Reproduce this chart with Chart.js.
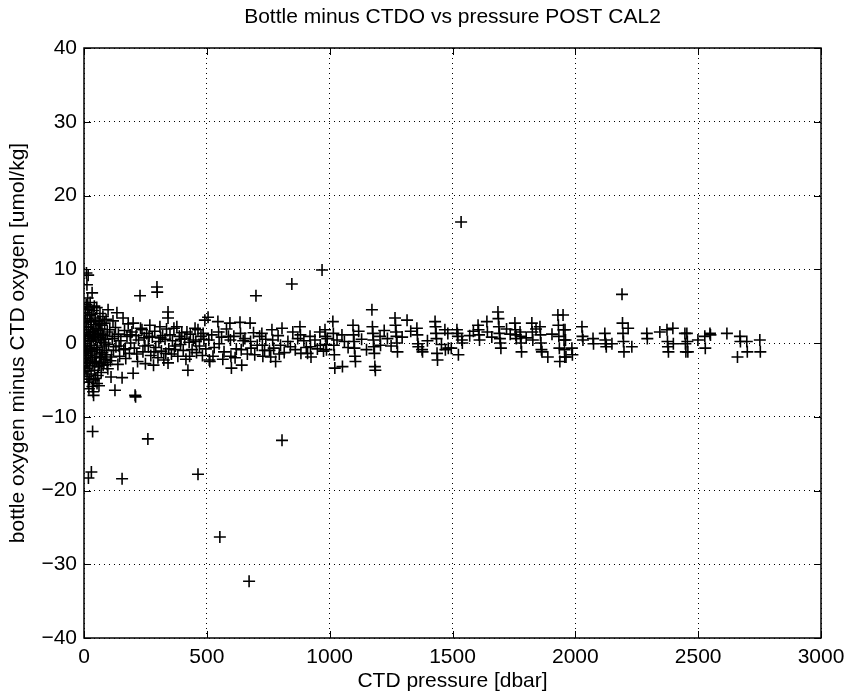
<!DOCTYPE html>
<html>
<head>
<meta charset="utf-8">
<title>Bottle minus CTDO vs pressure POST CAL2</title>
<script src="https://cdn.jsdelivr.net/npm/chart.js@4"></script>
<style>
    html, body { margin: 0; padding: 0; background: #fff; }
    #wrap { position: relative; width: 847px; height: 694px; }
</style>
</head>
<body>
<div id="wrap"><canvas id="oxyChart"></canvas></div>
<script>
// ============================================================
// DATA - [CTD pressure (dbar), bottle minus CTD oxygen (umol/kg)]
// ============================================================
const surfaceObs = [
    [2,1.2],[3,-0.5],[4,2.8],[5,-2.1],[6,4.1],[7,0.3],[8,-3.4],[9,5.2],[10,9.5],[10,-1.2],
    [11,1.8],[12,7.9],[12,-4.5],[13,3.3],[14,-0.8],[15,6.1],[15,-2.6],[16,0.6],[17,9.2],[17,-5.3],
    [18,2.2],[18,-18.3],[19,-1.7],[20,4.6],[20,-6.2],[21,0.9],[22,-3.1],[23,3.7],[24,-0.3],[25,5.5],
    [26,1.4],[27,-2.3],[28,2.9],[29,-4.2],[30,0.2],[30,-17.5],[31,3.9],[32,-1.1],[33,6.8],[34,-5.9],
    [35,1.6],[35,-12.0],[36,-2.8],[37,-6.6],[37,4.4],[38,0.7],[39,-7.1],[40,2.5],[41,-0.9],[42,5.0],
    [43,-3.7],[44,1.1],[45,-1.9],[46,3.4],[47,-4.8],[48,0.4],[49,2.0],[50,-2.5],[52,4.8],[53,-5.5],
    [54,1.3],[55,-0.6],[57,3.0],[58,-3.2],[60,0.8],[61,-5.8],[62,2.6],[64,-1.5],[65,4.0],[67,-2.0],
    [68,1.9],[70,-4.0],[72,0.1],[73,2.4],[75,-1.3],[77,3.6],[78,-3.0],[80,1.0],[82,-0.4],[84,2.7],
    [86,-2.2],[88,0.5],[90,3.2],[92,-1.6],[95,1.5],[97,-3.5],[98,4.5],[100,-0.2],
    [3,-3.9],[6,-1.4],[9,2.1],[11,-2.7],[14,4.9],[16,-3.8],[19,1.0],[23,-4.9],[26,-0.7],[29,3.1],
    [33,-2.0],[36,0.9],[40,-5.0],[44,-2.6],[47,2.9],[51,-0.9],[56,-4.4],[59,1.7],[63,-2.8],[66,0.4],
    [71,-1.8],[76,1.2],[81,-2.6],[85,0.0],[91,-1.0],[94,-2.9]
];

const upperObs = [
    [105,1.8],[108,-2.4],[110,-4.6],[115,0.6],[118,3.0],[120,-1.0],[126,-6.4],[128,2.1],[130,-0.5],[134,4.1],
    [138,-2.9],[140,1.2],[145,-1.8],[150,0.3],[155,-4.7],[155,-18.4],[159,3.4],[162,-0.9],[165,1.7],[170,-2.1],
    [175,0.9],[180,2.6],[185,-1.4],[190,0.0],[195,1.5],[200,-4.1],[200,2.7],[205,-0.7],[208,-7.1],[210,-7.3],
    [212,1.0],[218,-2.5],[222,0.4],[228,6.4],[230,2.0],[236,1.8],[240,-1.2],[245,0.7],[250,-2.8],[255,1.3],
    [260,-13.0],[262,-0.3],[268,2.4],[272,-1.7],[278,0.8],[283,-3.0],[288,1.6],[292,-0.6],[297,7.6],[298,6.9],
    [301,-2.0],[305,0.2],[309,2.2],[315,-1.1],[320,1.0],[325,-2.3],[330,0.5],[336,1.9],[342,4.2],[342,3.4],
    [342,-2.7],[345,-0.8],[350,1.1],[356,-1.5],[360,0.3],[366,2.0],[372,-0.4],[378,2.2],[382,-1.8],[388,0.9],
    [393,-0.2],[398,1.4],[404,-1.0],[410,0.6],[415,-2.2],[419,1.5],[423,-3.7],[428,0.1],[433,1.2],[440,-0.9],
    [445,0.4],[452,2.0],[458,-1.3],[464,1.8],[464,-17.8],[470,-0.4],[476,0.9],[482,-1.7],[488,0.5],[492,3.1],
    [496,-0.8],
    [112,-1.9],[124,0.9],[143,-0.4],[168,-0.8],[188,1.1],[215,-1.5],[248,-0.4],[265,0.9],[285,-1.2],[312,0.7],
    [333,-1.4],[368,-0.9],[395,0.5],[430,-1.8],[455,0.2],[485,1.3]
];

const intermediateObs = [
    [505,3.5],[508,0.4],[510,-2.3],[512,-2.5],[520,1.1],[530,-0.6],[545,2.9],[548,1.5],[550,-0.1],[553,-26.3],
    [560,0.8],[570,-1.2],[580,1.9],[594,2.7],[596,0.4],[598,-1.8],[600,-3.4],[610,0.9],[620,-0.8],[635,2.8],
    [637,1.3],[640,-0.9],[642,-3.0],[655,0.6],[665,-1.5],[672,-32.3],[676,2.7],[678,0.2],[680,-0.7],[690,1.4],
    [700,6.4],[705,-0.3],[715,0.9],[724,1.3],[726,-0.3],[728,-1.8],[740,0.5],[755,-1.0],[765,1.8],[768,0.4],
    [772,-0.7],[780,-2.5],[790,1.0],[800,-0.3],[806,-13.2],[806,2.0],[815,-1.3],[830,0.2],[846,8.0],[850,1.5],
    [860,-0.9],[879,2.2],[881,1.1],[883,-1.4],[895,0.3],[905,-0.6],[920,0.9],[922,-0.5],[924,-1.9],[940,0.4],
    [960,1.5],[962,-0.3],[969,9.9],[975,-1.1],[990,0.6],
    [525,-1.8],[565,-2.2],[588,0.9],[615,-2.0],[648,0.3],[695,-1.6],[735,-1.0],[760,-1.9],[795,-1.5],[840,-0.5],
    [870,0.6],[910,-1.4],[950,-0.8],
    [981,1.8],[983,0.9],[985,-0.2],[987,-0.9],[1013,2.9],[1015,1.3],[1017,-0.3],[1019,-1.6],[1021,-3.4],[1050,1.1],
    [1052,-3.2],[1060,0.2],[1095,2.4],[1097,1.1],[1099,0.2],[1101,-0.7],[1103,-1.8],[1105,-2.5],[1130,0.5],[1172,4.5],
    [1174,2.2],[1176,1.3],[1178,0.4],[1180,-0.5],[1182,-1.4],[1184,-3.2],[1186,-3.7],[1205,0.9],[1207,-0.3],[1235,0.6],
    [1266,3.4],[1268,2.4],[1270,1.5],[1272,0.9],[1274,0.0],[1276,-1.2],[1315,3.1],[1355,2.0],[1357,1.1],[1359,-0.1],
    [1361,-0.5],[1376,-0.9],[1378,-1.2],[1429,2.9],[1431,2.2],[1433,1.3],[1435,0.6],[1437,-1.4],[1439,-2.3],[1481,1.3],
    [1483,-0.7],[1535,16.4],
    [1030,0.4],[1075,-0.6],[1118,1.6],[1150,-0.9],[1222,1.7],[1250,-0.4],[1295,0.8],[1330,1.6],[1398,0.3],[1455,-0.2]
];

const deepObs = [
    [1469,1.8],[1471,-0.9],[1495,-0.7],[1518,1.8],[1520,1.3],[1522,0.9],[1524,-1.6],[1538,0.4],[1540,0.0],[1604,2.4],
    [1606,1.8],[1608,1.1],[1610,0.4],[1640,2.9],[1642,1.5],[1685,4.2],[1687,3.3],[1689,2.2],[1691,1.3],[1693,0.6],
    [1695,0.0],[1697,-0.7],[1754,2.7],[1756,1.8],[1758,1.1],[1760,0.6],[1775,1.5],[1777,0.9],[1779,0.0],[1781,-1.2],
    [1823,2.7],[1825,1.5],[1827,0.4],[1856,2.2],[1858,1.1],[1860,0.0],[1862,-0.9],[1864,-1.2],[1888,-1.9],[1929,3.8],
    [1931,2.4],[1933,0.9],[1935,-0.7],[1937,-2.5],[1958,1.8],[1960,0.4],[1962,-1.9],
    [1570,1.0],[1585,1.6],[1660,0.8],[1720,1.9],[1735,1.2],[1800,0.7],[1840,1.9],[1905,1.2],
    [1950,3.8],[1952,1.8],[1954,0.4],[1956,-0.9],[1957,-1.9],[1986,-0.7],[1988,-1.6],[2027,2.2],[2029,0.9],[2031,0.4],
    [2072,0.6],[2074,-0.1],[2120,1.3],[2122,0.4],[2124,-0.1],[2126,-0.5],[2149,-0.1],[2190,6.6],[2192,2.7],[2194,1.3],
    [2196,0.2],[2198,-1.2],[2215,2.0],[2230,-0.5],[2291,1.3],[2293,0.6],[2344,1.5],[2373,1.8],[2375,0.2],[2377,-0.5],
    [2379,-1.2],[2397,2.0],[2399,-0.1],[2446,1.3],[2448,-0.1],[2450,-1.2],
    [2454,1.3],[2456,0.2],[2458,-1.2],[2499,0.4],[2527,0.9],[2529,-0.7],[2548,1.3],[2550,1.1],[2617,1.3],[2660,-1.9],
    [2670,0.9],[2672,0.2],[2698,0.2],[2700,-1.2],[2751,0.4],[2753,-1.2]
];

// axis limits / ticks
const xTicks = [0, 500, 1000, 1500, 2000, 2500, 3000];
const yTicks = [-40, -30, -20, -10, 0, 10, 20, 30, 40];

// ============================================================
// STYLE
// ============================================================
const FONT = { family: '"Liberation Sans", Arial, Helvetica, sans-serif', size: 21, weight: 'normal' };
const TICK_LEN = 7;

// matlab prints plain numbers with a real minus sign
const plainNumber = v => (v < 0 ? '\u2212' + Math.abs(v) : String(v));

// matlab-like box with inner tick marks, drawn over the points
const framePlugin = {
    id: 'matlabFrame',
    afterDatasetsDraw(chart) {
        const { ctx, chartArea: a, scales: { x, y } } = chart;
        ctx.save();
        ctx.strokeStyle = '#000';
        ctx.lineWidth = 1;
        ctx.beginPath();
        x.ticks.forEach(t => {
            const px = Math.round(x.getPixelForValue(t.value)) + 0.5;
            ctx.moveTo(px, a.bottom); ctx.lineTo(px, a.bottom - TICK_LEN);
            ctx.moveTo(px, a.top); ctx.lineTo(px, a.top + TICK_LEN);
        });
        y.ticks.forEach(t => {
            const py = Math.round(y.getPixelForValue(t.value)) + 0.5;
            ctx.moveTo(a.left, py); ctx.lineTo(a.left + TICK_LEN, py);
            ctx.moveTo(a.right, py); ctx.lineTo(a.right - TICK_LEN, py);
        });
        ctx.stroke();
        ctx.lineWidth = 1.5;
        ctx.strokeRect(a.left, a.top, a.right - a.left, a.bottom - a.top);
        ctx.restore();
    }
};

// ============================================================
// CHART
// ============================================================
function buildChart() {
    const points = [...surfaceObs, ...upperObs, ...intermediateObs, ...deepObs]
        .map(([p, d]) => ({ x: p, y: d }));

    const ctx = document.getElementById('oxyChart').getContext('2d');
    return new Chart(ctx, {
        type: 'scatter',
        data: {
            datasets: [{
                label: 'bottle - CTDO',
                data: points,
                pointStyle: 'cross',
                pointRadius: 6,
                pointBorderWidth: 1.6,
                borderColor: '#000',
                backgroundColor: '#000'
            }]
        },
        options: {
            responsive: true,
            maintainAspectRatio: false,
            animation: false,
            events: [],
            layout: { padding: { left: 0, right: 0, top: 0, bottom: 0 } },
            plugins: {
                legend: { display: false },
                tooltip: { enabled: false },
                title: {
                    display: true,
                    fullSize: false,
                    text: 'Bottle minus CTDO vs pressure POST CAL2',
                    color: '#000',
                    font: FONT,
                    padding: { top: 5, bottom: 17.8 }
                }
            },
            scales: {
                x: {
                    type: 'linear',
                    min: xTicks[0],
                    max: xTicks[xTicks.length - 1],
                    afterBuildTicks: s => { s.ticks = xTicks.map(v => ({ value: v })); },
                    afterFit: s => { s.height = 56; s.paddingRight = 26; },
                    ticks: { color: '#000', font: FONT, padding: 7, maxRotation: 0, callback: plainNumber },
                    grid: { color: '#000', lineWidth: 1, drawTicks: false },
                    border: { display: false, dash: [1, 4] },
                    title: {
                        display: true, text: 'CTD pressure [dbar]', color: '#000', font: FONT,
                        padding: { top: 0, bottom: 0 }
                    }
                },
                y: {
                    type: 'linear',
                    min: yTicks[0],
                    max: yTicks[yTicks.length - 1],
                    afterBuildTicks: s => { s.ticks = yTicks.map(v => ({ value: v })); },
                    afterFit: s => { s.width = 84; },
                    ticks: { color: '#000', font: FONT, padding: 7, callback: plainNumber },
                    grid: { color: '#000', lineWidth: 1, drawTicks: false },
                    border: { display: false, dash: [1, 4] },
                    title: {
                        display: true, text: 'bottle oxygen minus CTD oxygen [umol/kg]', color: '#000', font: FONT,
                        padding: { top: 6, bottom: 0 }
                    }
                }
            }
        },
        plugins: [framePlugin]
    });
}

document.addEventListener('DOMContentLoaded', buildChart);
</script>
</body>
</html>
